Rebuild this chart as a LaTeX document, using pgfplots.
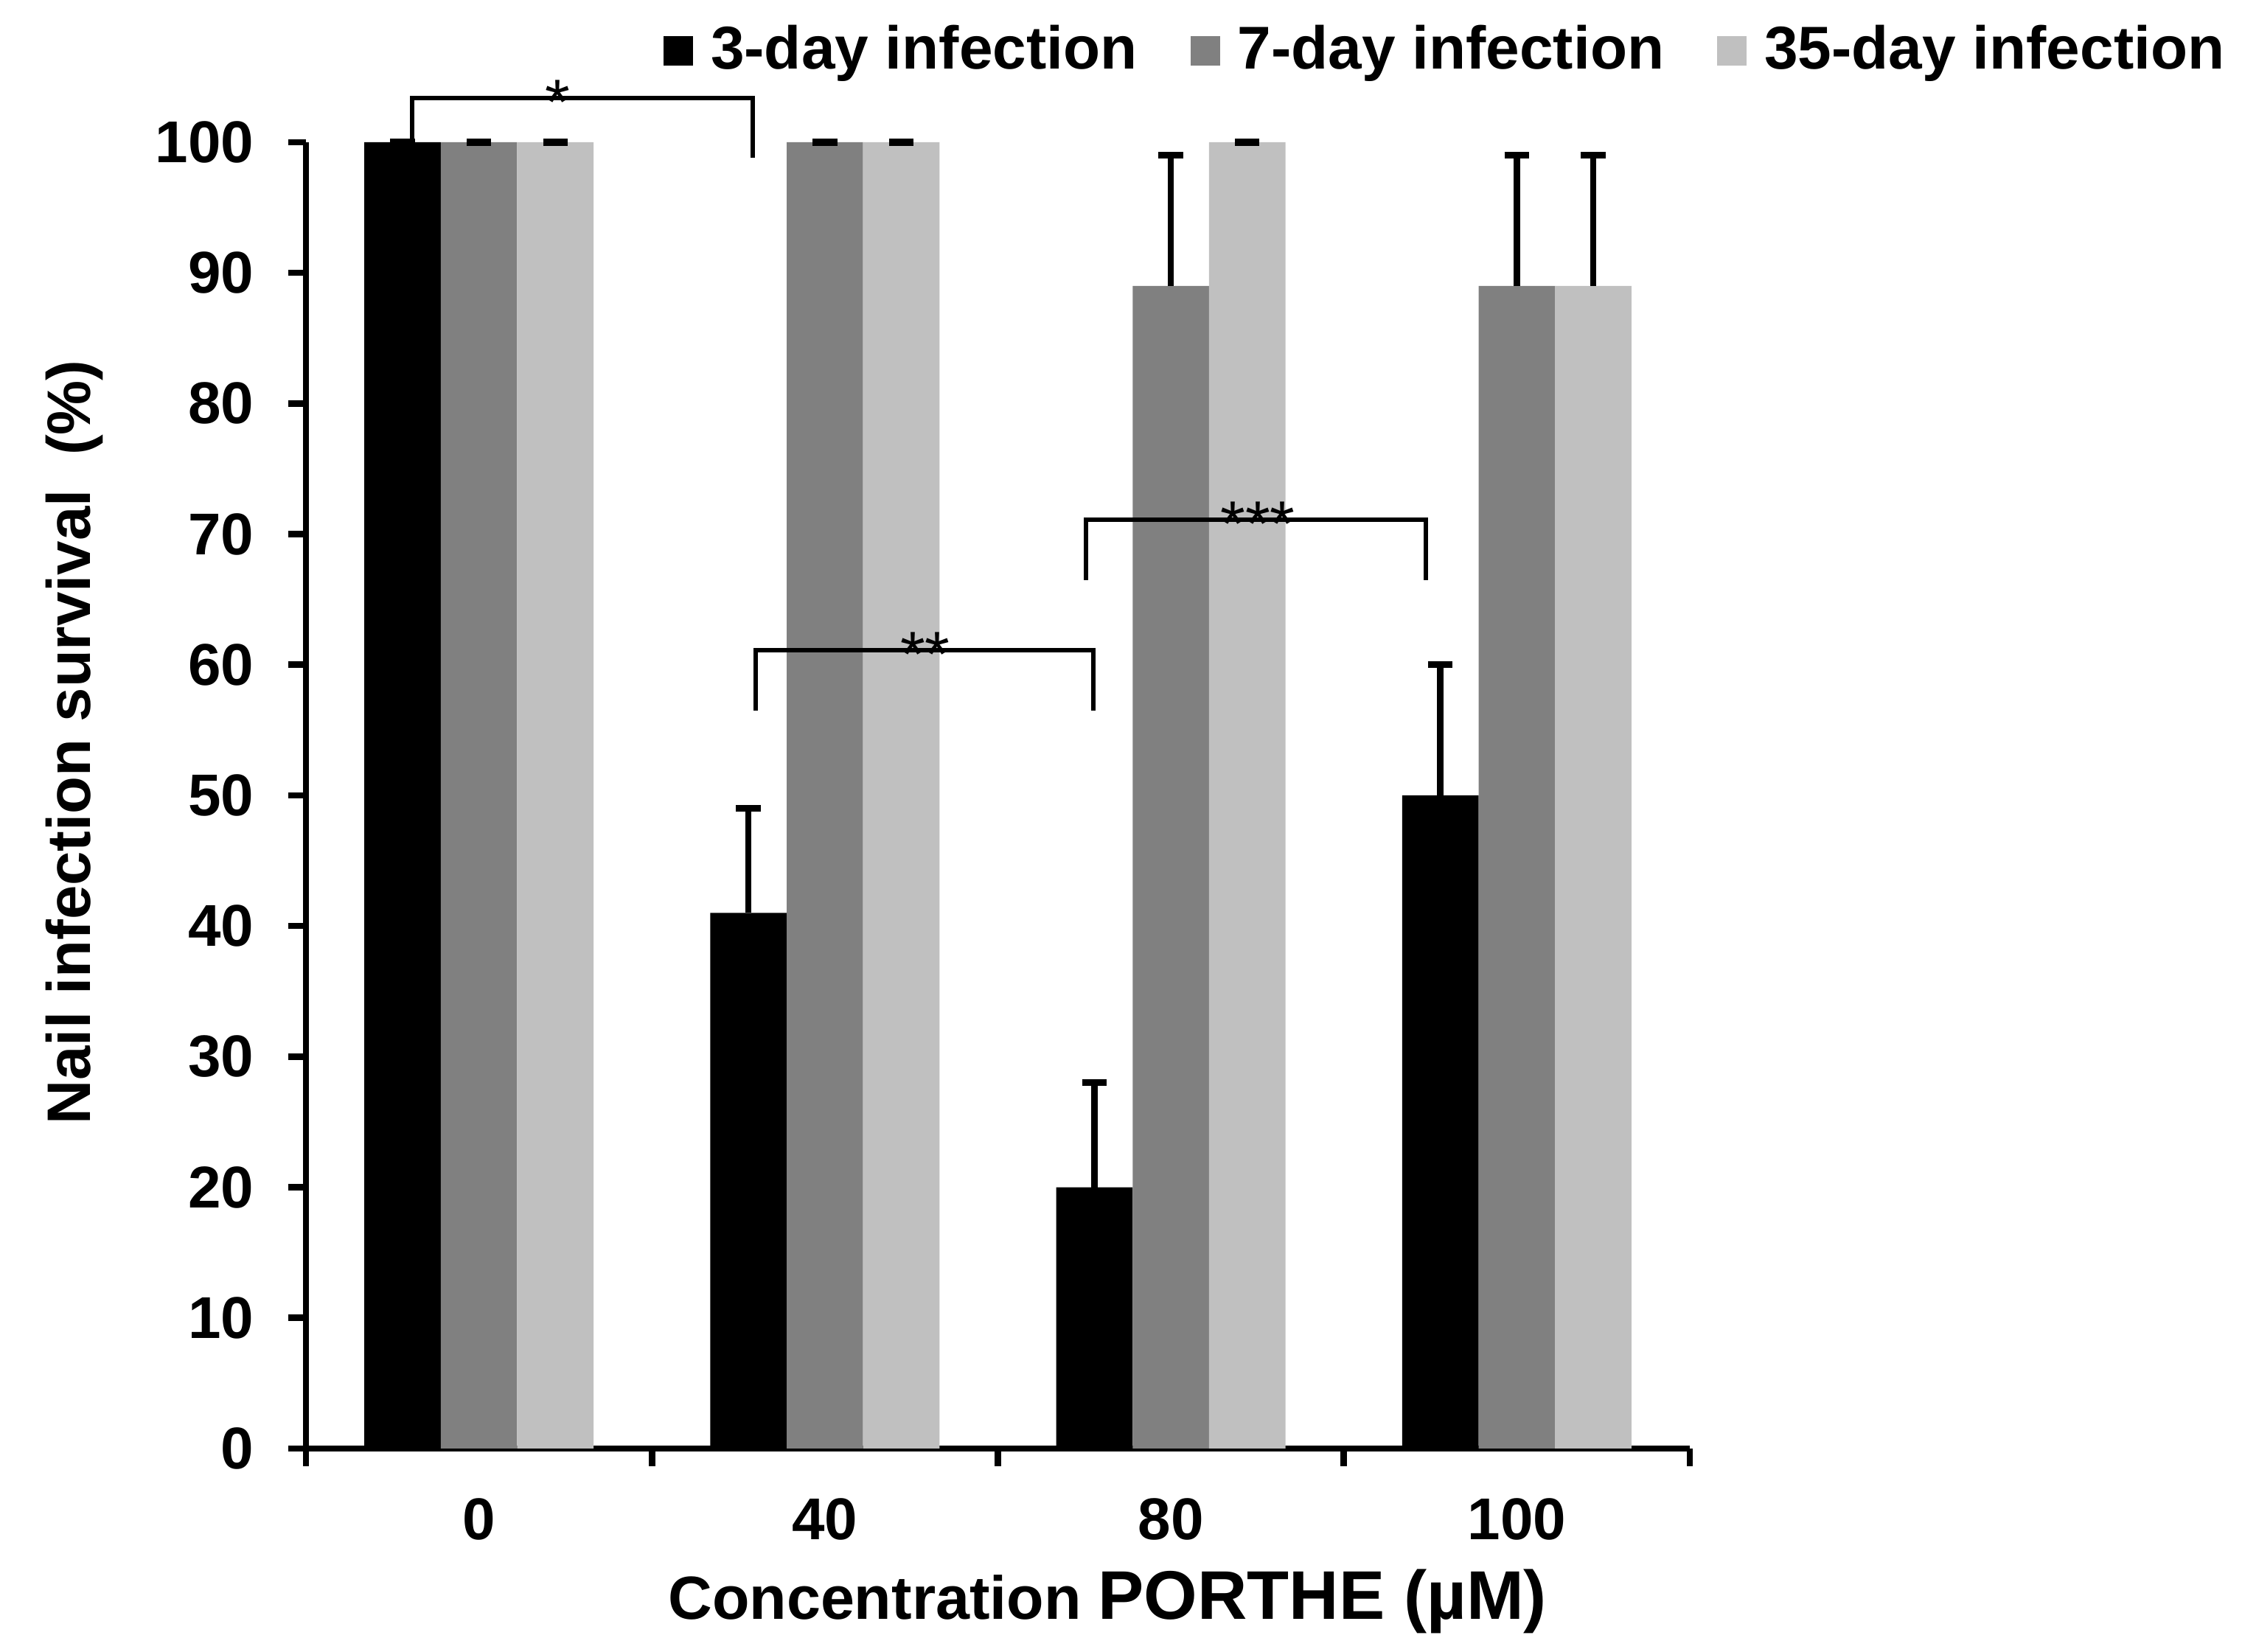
\documentclass[border=0pt]{standalone}
\usepackage{fontspec}
\setmainfont{Liberation Sans}
\usepackage{pgfplots}
\pgfplotsset{compat=1.18}
\definecolor{dg}{HTML}{808080}
\definecolor{lg}{HTML}{C0C0C0}
\pgfplotsset{sqlegend/.style={legend image code/.code={\fill[##1] (0pt,-3pt) rectangle (6pt,3pt);}}}
\begin{document}
\begin{tikzpicture}
\useasboundingbox (-62.25pt,-41.4pt) rectangle (393.9pt,294.75pt);
\begin{axis}[
  scale only axis, width=281.55pt, height=265.8pt,
  xmin=-0.5, xmax=3.5, ymin=0, ymax=100,
  enlargelimits=false, clip=false,
  ybar=0pt, bar width=0.221,
  axis x line=bottom, axis y line=left,
  axis line style={-, line width=1.3pt, black},
  tick align=outside, major tick length=3.6pt,
  tick style={line width=1.3pt, black},
  xtick={-0.5,0.5,1.5,2.5,3.5}, xticklabels={},
  extra x ticks={0,1,2,3}, extra x tick labels={0,40,80,100},
  extra x tick style={major tick length=0pt, tick style={draw=none}},
  ytick={0,10,20,30,40,50,60,70,80,90,100},
  yticklabels={0,10,20,30,40,50,60,70,80,90,100},
  ticklabel style={font=\fontsize{12}{14}\selectfont\bfseries, inner sep=0pt},
  xticklabel shift=9.9pt, yticklabel shift=6.8pt,
  legend columns=3,
  legend style={at={(0.2584,1.07)}, anchor=west, draw=none, fill=none,
    inner sep=0pt, outer sep=0pt,
    font=\fontsize{12.3}{14}\selectfont\bfseries,
    nodes={inner sep=0pt},
    /tikz/every odd column/.append style={column sep=3.6pt},
    /tikz/every even column/.append style={column sep=10.8pt}},
  legend cell align=left,
]
\addplot[fill=black, draw=none, sqlegend,
  error bars/.cd, y dir=plus, y explicit,
  error bar style={line width=1.3pt, black},
  error mark options={rotate=90, mark size=2.5pt, line width=1.4pt, black}]
  coordinates {(0,100) +- (0,0) (1,41) +- (0,8) (2,20) +- (0,8) (3,50) +- (0,10)};
\addlegendentry{3-day infection}
\addplot[fill=dg, draw=none, sqlegend,
  error bars/.cd, y dir=plus, y explicit,
  error bar style={line width=1.3pt, black},
  error mark options={rotate=90, mark size=2.5pt, line width=1.4pt, black}]
  coordinates {(0,100) +- (0,0) (1,100) +- (0,0) (2,89) +- (0,10) (3,89) +- (0,10)};
\addlegendentry{7-day infection}
\addplot[fill=lg, draw=none, sqlegend,
  error bars/.cd, y dir=plus, y explicit,
  error bar style={line width=1.3pt, black},
  error mark options={rotate=90, mark size=2.5pt, line width=1.4pt, black}]
  coordinates {(0,100) +- (0,0) (1,100) +- (0,0) (2,100) +- (0,0) (3,89) +- (0,10)};
\addlegendentry{35-day infection}
% significance brackets
\draw[line width=0.9pt] (axis cs:-0.194,98.8) |- (axis cs:0.791,103.4) -- (axis cs:0.791,98.8);
\draw[line width=0.9pt] (axis cs:0.80,56.5) |- (axis cs:1.775,61.1) -- (axis cs:1.775,56.5);
\draw[line width=0.9pt] (axis cs:1.755,66.5) |- (axis cs:2.738,71.1) -- (axis cs:2.738,66.5);
\node[anchor=base, inner sep=0pt, yshift=-5.3pt, font=\fontsize{13}{15}\selectfont] at (axis cs:0.228,103.4) {*};
\node[anchor=base, inner sep=0pt, yshift=-5.3pt, font=\fontsize{13}{15}\selectfont] at (axis cs:1.29,61.1) {**};
\node[anchor=base, inner sep=0pt, yshift=-5.3pt, font=\fontsize{13}{15}\selectfont] at (axis cs:2.251,71.1) {***};
% axis titles
\node[rotate=90, anchor=base, inner sep=0pt, font=\fontsize{12.5}{15}\selectfont\bfseries] at (axis cs:-1.123,54.06) {Nail infection survival~~(\%)};
\node[anchor=base, inner sep=0pt, font=\bfseries] at (axis cs:1.817,-13.09) {\fontsize{12.4}{15}\selectfont Concentration \fontsize{14}{17}\selectfont PORTHE (µM)};
\end{axis}
\end{tikzpicture}
\end{document}
